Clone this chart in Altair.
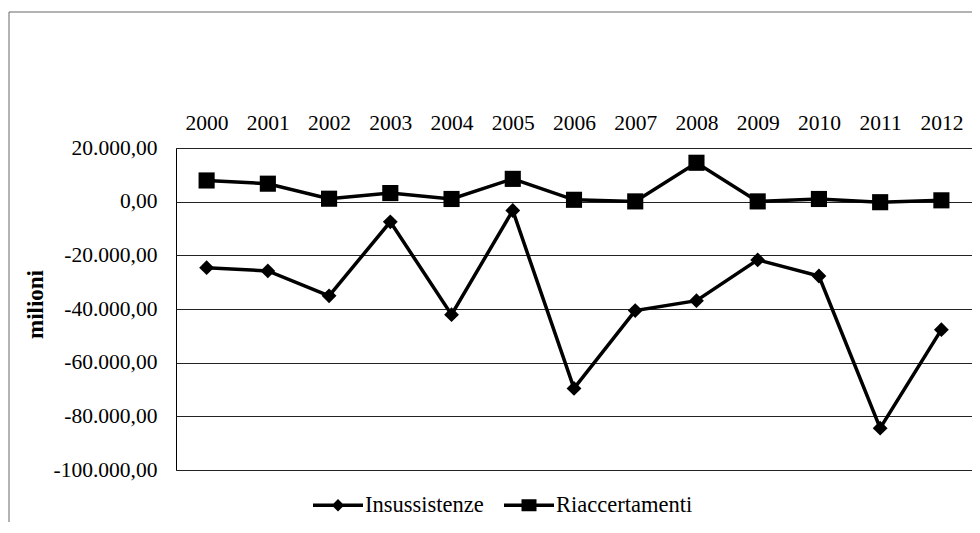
import altair as alt
import pandas as pd

years = [str(y) for y in range(2000, 2013)]
insussistenze = [-24600, -25800, -35100, -7500, -42100, -3300, -69600,
                 -40600, -36900, -21700, -27700, -84400, -47700]
riaccertamenti = [7900, 6700, 1100, 3200, 1000, 8500, 700,
                  100, 14500, 100, 1000, -200, 500]
series = ["Insussistenze", "Riaccertamenti"]
y_ticks = [20000, 0, -20000, -40000, -60000, -80000, -100000]

df = pd.DataFrame({
    "anno": years * 2,
    "valore": insussistenze + riaccertamenti,
    "serie": [series[0]] * len(years) + [series[1]] * len(years),
})

FONT = "Liberation Serif"
W, H = 796, 322

label_expr = ("replace(replace(replace(replace(format(datum.value, ',.2f'),"
              " ',', '#'), '.', ','), '#', '.'), '\u2212', '-')")

x_enc = alt.X("anno:N", sort=years, title=None,
              axis=alt.Axis(orient="top", ticks=False, domain=False, grid=False,
                            labelAngle=0, labelFont=FONT, labelFontSize=21.5,
                            labelColor="black", labelPadding=25,
                            labelBaseline="middle"))
y_enc = alt.Y("valore:Q",
              scale=alt.Scale(domain=[-100000, 20000], nice=False, zero=False),
              axis=alt.Axis(values=y_ticks, labelExpr=label_expr, ticks=False,
                            tickSize=0, domain=False, grid=True,
                            gridColor="#222", gridWidth=1,
                            labelFont=FONT, labelFontSize=21.5, labelColor="black",
                            labelPadding=19, title="milioni",
                            titleFont=FONT, titleFontSize=23,
                            titleFontWeight="bold", titleColor="black",
                            titleX=-141, titleY=156, titleAlign="center",
                            titleBaseline="middle", titleAngle=-90))

base = alt.Chart(df)

lines = base.mark_line(color="black", strokeWidth=3.5).encode(
    x=x_enc, y=y_enc, detail="serie:N")

points = base.mark_point(filled=True, color="black", opacity=1).encode(
    x=x_enc, y=y_enc,
    shape=alt.Shape("serie:N", scale=alt.Scale(domain=series, range=["diamond", "square"]),
                    legend=None),
    size=alt.Size("serie:N", scale=alt.Scale(domain=series, range=[220, 260]),
                  legend=None),
)

diamond_path = "M-1,-0.07H1V0.07H-1Z M0,-0.25L0.25,0L0,0.25L-0.25,0Z"
square_path = "M-1,-0.07H1V0.07H-1Z M-0.3,-0.24H0.3V0.24H-0.3Z"

legend_layer = base.mark_point(filled=True, color="black", opacity=0).encode(
    x=x_enc, y=y_enc,
    shape=alt.Shape("serie:N",
                    scale=alt.Scale(domain=series, range=[diamond_path, square_path]),
                    legend=alt.Legend(title=None, orient="none", legendX=137,
                                      legendY=332, direction="horizontal",
                                      symbolSize=2500, symbolFillColor="black",
                                      symbolStrokeWidth=0, symbolOpacity=1,
                                      labelFont=FONT, labelFontSize=22.5,
                                      labelColor="black", labelOffset=2,
                                      columnPadding=20)),
)

frame = alt.Chart(pd.DataFrame({"k": [0]})).mark_rect(
    fillOpacity=0, stroke="#666", strokeWidth=1).encode(
    x=alt.value(-167), x2=alt.value(W + 20), y=alt.value(-136), y2=alt.value(H + 100))

chart = alt.layer(frame, lines, points, legend_layer).resolve_scale(
    shape="independent", size="independent"
).properties(
    width=W, height=H,
    padding={"left": 168, "top": 140, "right": 0, "bottom": 52},
    autosize=alt.AutoSizeParams(type="none"),
    background="white",
).configure_view(stroke="black", strokeWidth=1)

chart.save("out.html", embed_options={"renderer": "svg", "actions": False})
